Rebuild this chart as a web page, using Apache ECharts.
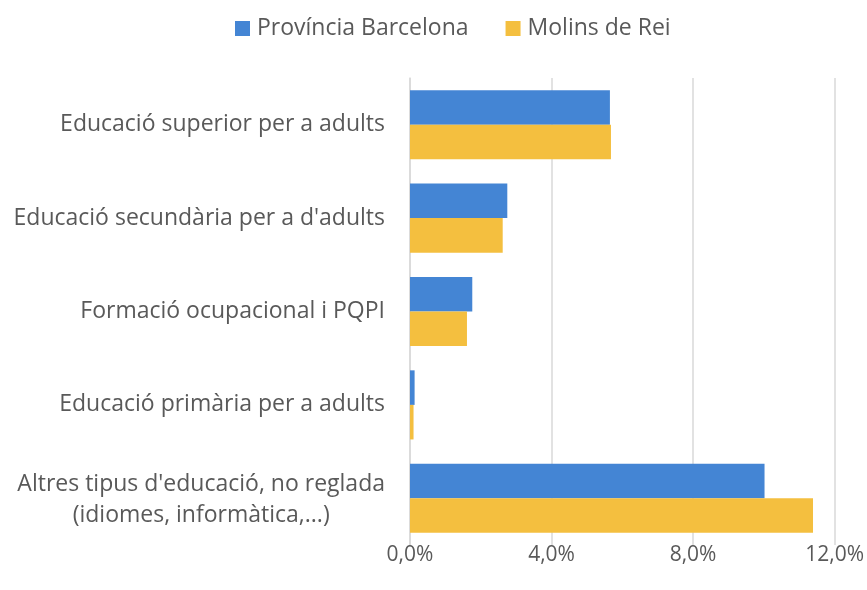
<!DOCTYPE html>
<html>
<head>
<meta charset="utf-8">
<script src="https://cdn.jsdelivr.net/npm/echarts@6/dist/echarts.min.js"></script>
<style>
  html, body { margin: 0; padding: 0; background: #fff; }
  #chart { width: 867px; height: 590px; }
</style>
</head>
<body>
<div id="chart"></div>
<script>
// categories, top to bottom
var categories = [
  'Educació superior per a adults',
  "Educació secundària per a d'adults",
  'Formació ocupacional i PQPI',
  'Educació primària per a adults',
  "Altres tipus d'educació, no reglada\n(idiomes, informàtica,...)"
];
var provincia = [5.65, 2.75, 1.76, 0.13, 10.02];
var molins = [5.68, 2.62, 1.61, 0.10, 11.39];
var seriesNames = ['Província Barcelona', 'Molins de Rei'];

var chart = echarts.init(document.getElementById('chart'));
var option = {
  textStyle: { fontFamily: 'Open Sans' },
  legend: {
    top: 12,
    left: 230,
    itemWidth: 15,
    itemHeight: 15,
    itemGap: 37,
    icon: 'rect',
    textStyle: { fontSize: 23, color: '#595959', fontFamily: 'Open Sans', padding: [0, 0, 0, 2] },
    data: seriesNames
  },
  grid: { left: 410, right: 31, top: 78, bottom: 45, containLabel: false },
  xAxis: {
    type: 'value',
    min: 0,
    max: 12,
    interval: 4,
    axisLine: { show: false },
    axisTick: { show: false },
    splitLine: { lineStyle: { color: '#d9d9d9', width: 1.5 } },
    axisLabel: {
      fontSize: 21,
      color: '#595959',
      margin: 0,
      formatter: function (v) { return v.toFixed(1).replace('.', ',') + '%'; }
    }
  },
  yAxis: {
    type: 'category',
    inverse: true,
    data: categories,
    axisLine: { show: true, lineStyle: { color: '#d9d9d9', width: 1.5 } },
    axisTick: { show: false },
    axisLabel: {
      fontSize: 23,
      color: '#595959',
      margin: 25,
      lineHeight: 34,
      formatter: function (v) {
        var lines = v.split('\n');
        if (lines.length === 1) return '{c|' + v + '}';
        return '{a|' + lines[0] + '}\n{c|' + lines[1] + '}';
      },
      rich: {
        a: { fontSize: 23, color: '#595959', align: 'center', lineHeight: 34, padding: [6, 0, 0, 0], fontFamily: 'Open Sans' },
        c: { fontSize: 23, color: '#595959', align: 'center', lineHeight: 34, fontFamily: 'Open Sans' }
      }
    }
  },
  series: [
    {
      name: seriesNames[0],
      type: 'bar',
      data: provincia,
      barGap: '0%',
      barCategoryGap: '26%',
      itemStyle: { color: '#4485d4' }
    },
    {
      name: seriesNames[1],
      type: 'bar',
      data: molins,
      barGap: '0%',
      barCategoryGap: '26%',
      itemStyle: { color: '#f4bf3f' }
    }
  ]
};
chart.setOption(option);
</script>
</body>
</html>
